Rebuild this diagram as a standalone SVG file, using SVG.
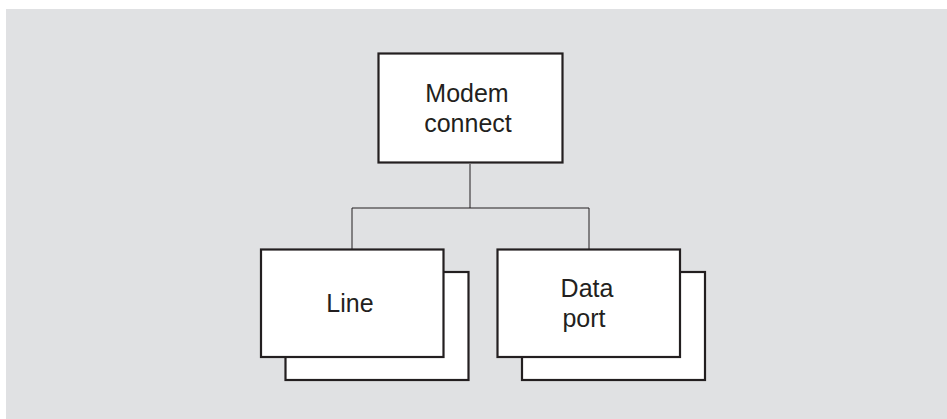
<svg xmlns="http://www.w3.org/2000/svg" width="947" height="419" viewBox="0 0 947 419">
<style>
.box{fill:#fff;stroke:#231f20;stroke-width:2.2}
.conn{fill:none;stroke:#231f20;stroke-width:1}
.lbl{font-family:"Liberation Sans",Arial,sans-serif;font-size:25px;fill:#231f20;text-anchor:middle}
</style>
<rect x="0" y="0" width="947" height="419" fill="#fff"/>
<rect x="6" y="9" width="941" height="410" fill="#e0e1e3"/>
<g id="connectors">
<line class="conn" x1="470" y1="164" x2="470" y2="208"/>
<line class="conn" x1="352" y1="208" x2="589" y2="208"/>
<line class="conn" x1="352" y1="208" x2="352" y2="249"/>
<line class="conn" x1="589" y1="208" x2="589" y2="249"/>
</g>
<g id="modem">
<rect class="box" x="378.5" y="53.5" width="184" height="109"/>
<text class="lbl" x="467" y="102">Modem</text>
<text class="lbl" x="468" y="132">connect</text>
</g>
<g id="line">
<rect class="box" x="285.5" y="272" width="183" height="108"/>
<rect class="box" x="261" y="249.5" width="182.5" height="107.5"/>
<text class="lbl" x="350" y="312">Line</text>
</g>
<g id="dataport">
<rect class="box" x="522" y="272" width="183" height="108"/>
<rect class="box" x="497.5" y="249.5" width="182.5" height="107.5"/>
<text class="lbl" x="587" y="297">Data</text>
<text class="lbl" x="584" y="327">port</text>
</g>
</svg>
